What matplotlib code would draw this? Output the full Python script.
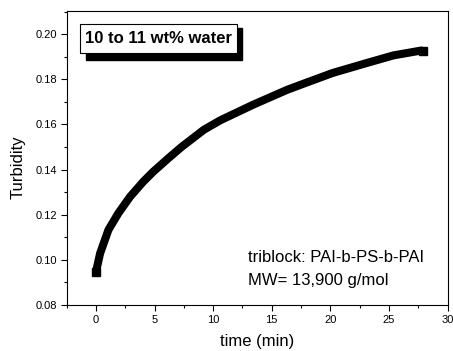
import numpy as np
from matplotlib import pyplot as plt
from matplotlib.patches import Rectangle
from matplotlib.ticker import MultipleLocator

plt.rcParams['font.family'] = ['Liberation Sans', 'DejaVu Sans']

# points
time_min = [0, 0.36, 1.07, 1.92, 2.92, 4.05, 4.9, 6.2, 7.3, 9.2, 10.6,
            13.4, 16.3, 18.0, 20.2, 23.1, 25.4, 27.6, 27.9]
turbidity = [0.0945, 0.1029, 0.1133, 0.1207, 0.128, 0.1347, 0.1391, 0.1451,
             0.150, 0.1576, 0.1618, 0.1687, 0.1753, 0.1786, 0.1828, 0.1872,
             0.1906, 0.1926, 0.1927]

box_label = '10 to 11 wt% water'
note_lines = ['triblock: PAI-b-PS-b-PAI', 'MW= 13,900 g/mol']

fig = plt.figure(figsize=(4.53, 3.51), dpi=100)
ax = fig.add_axes([0.147, 0.131, 0.841, 0.838])

ax.plot(time_min, turbidity, color='black', lw=5.8,
        solid_capstyle='butt', solid_joinstyle='round')
# square ends like the instrument's markers
ax.plot([time_min[0], time_min[-1]], [turbidity[0], turbidity[-1]], ls='none',
        marker='s', ms=6, color='black')

ax.set_xlim(-2.5, 30)
ax.set_ylim(0.08, 0.2103)
ax.xaxis.set_major_locator(MultipleLocator(5))
ax.xaxis.set_minor_locator(MultipleLocator(2.5))
ax.yaxis.set_minor_locator(MultipleLocator(0.01))
ax.set_yticks([0.08, 0.10, 0.12, 0.14, 0.16, 0.18, 0.20])
ax.set_yticklabels(['0.08', '0.10', '0.12', '0.14', '0.16', '0.18', '0.20'])
ax.tick_params(which='major', direction='out', length=4, width=0.8, labelsize=8, pad=3)
ax.tick_params(which='minor', direction='out', length=2.2, width=0.8)
for s in ax.spines.values():
    s.set_linewidth(0.8)

ax.set_xlabel('time (min)', fontsize=12, labelpad=7)
ax.set_ylabel('Turbidity', fontsize=12)
ax.yaxis.set_label_coords(-0.107, 0.47)

# framed title with drop shadow
ax.add_patch(Rectangle((0.051, 0.834), 0.41, 0.108, transform=ax.transAxes,
                       facecolor='black', edgecolor='black', zorder=4))
ax.add_patch(Rectangle((0.035, 0.857), 0.412, 0.099, transform=ax.transAxes,
                       facecolor='white', edgecolor='black', lw=0.8, zorder=5))
ax.text(0.241, 0.906, box_label, transform=ax.transAxes, ha='center',
        va='center', fontsize=12, fontweight='bold', zorder=6)

ax.text(0.476, 0.147, note_lines[0], transform=ax.transAxes, fontsize=12, va='baseline')
ax.text(0.476, 0.068, note_lines[1], transform=ax.transAxes, fontsize=12, va='baseline')

fig.savefig('out.png', dpi=100)
